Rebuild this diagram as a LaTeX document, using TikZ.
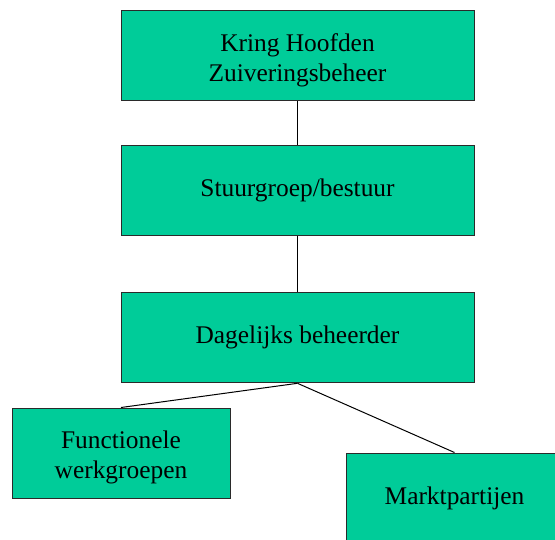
\documentclass[tikz,border=0pt]{standalone}
\usepackage{fontspec}
\setmainfont{Liberation Serif}
\definecolor{boxgreen}{HTML}{00CC99}
\definecolor{boxedge}{HTML}{2A2A2A}
\begin{document}
\begin{tikzpicture}[x=1pt,y=-1pt,
  orgbox/.style={draw=boxedge,line width=1pt,fill=boxgreen,rectangle,inner sep=0pt,
    minimum width=#1,minimum height=90pt},
  orgbox/.default=353pt,
  boxtext/.style={inner sep=0pt,align=center,
    font=\fontsize{25.4}{29.3}\selectfont},
  link/.style={draw=black,line width=1pt}]
\useasboundingbox (0,0) rectangle (555,539);
\clip (0,0) rectangle (555,539);
\node[orgbox] (kring) at (297.5,55.3) {};
\node[boxtext] (kringt) at (297.5,60.3) {Kring Hoofden\\Zuiveringsbeheer};
\node[orgbox] (stuur) at (297.5,190) {};
\node[boxtext] (stuurt) at (297.5,190) {Stuurgroep/bestuur};
\node[orgbox] (dag) at (297.5,337.8) {};
\node[boxtext] (dagt) at (297.5,337.8) {Dagelijks beheerder};
\node[orgbox=218pt] (func) at (121,453) {};
\node[boxtext] (funct) at (121,457.5) {Functionele\\werkgroepen};
\node[orgbox=217pt] (markt) at (454.5,498) {};
\node[boxtext] (marktt) at (454.5,498) {Marktpartijen};
\draw[link] (kring.south) -- (stuur.north);
\draw[link] (stuur.south) -- (dag.north);
\draw[link] (dag.south) -- (func.north);
\draw[link] (dag.south) -- (markt.north);
\end{tikzpicture}
\end{document}
